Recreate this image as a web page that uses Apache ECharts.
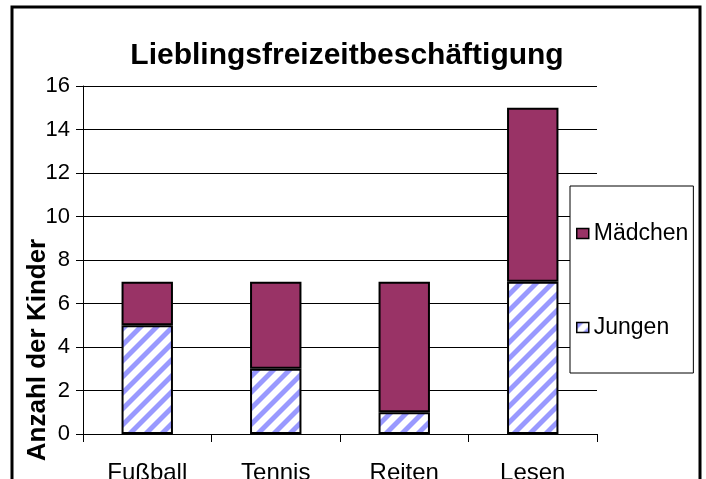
<!DOCTYPE html>
<html>
<head>
<meta charset="utf-8">
<script src="https://cdn.jsdelivr.net/npm/echarts@6/dist/echarts.min.js"></script>
<style>
html,body{margin:0;padding:0;background:#fff;}
#chart{width:706px;height:479px;}
</style>
</head>
<body>
<div id="chart"></div>
<script>
var titleText = 'Lieblingsfreizeitbeschäftigung';
var yAxisTitle = 'Anzahl der Kinder';
var categories = ['Fußball', 'Tennis', 'Reiten', 'Lesen'];
var seriesNames = ['Jungen', 'Mädchen'];
var jungen = [5, 3, 1, 7];
var maedchen = [2, 4, 6, 8];
var yMin = 0, yMax = 16, yStep = 2;

function makeHatch() {
  var n = 16;
  var c = document.createElement('canvas');
  c.width = n; c.height = n;
  var ctx = c.getContext('2d');
  var img = ctx.createImageData(n, n);
  for (var y = 0; y < n; y++) {
    for (var x = 0; x < n; x++) {
      var d = (x + y) % n;
      var t;
      if (d < 6) t = 1; else if (d === 6 || d === 15) t = 0.5; else t = 0;
      var r = Math.round(255 - t * (255 - 0x99));
      var g = Math.round(255 - t * (255 - 0x99));
      var i = (y * n + x) * 4;
      img.data[i] = r; img.data[i + 1] = g; img.data[i + 2] = 255; img.data[i + 3] = 255;
    }
  }
  ctx.putImageData(img, 0, 0);
  return c;
}
var hatch = makeHatch();
var FONT = 'Liberation Sans, Arial, sans-serif';

var chart = echarts.init(document.getElementById('chart'), null, {renderer: 'canvas'});
chart.setOption({
  backgroundColor: '#fff',
  animation: false,
  title: {
    text: titleText,
    left: 342,
    textAlign: 'center',
    top: 36,
    textStyle: {fontFamily: FONT, fontSize: 30, fontWeight: 'bold', color: '#000'}
  },
  legend: {
    data: ['Mädchen', 'Jungen'],
    orient: 'vertical',
    left: 570,
    top: 186,
    padding: [36, 5, 34, 6],
    itemGap: 71,
    itemWidth: 12,
    itemHeight: 10,
    itemTextGap: 5,
    icon: 'rect',
    borderColor: '#000',
    borderWidth: 1,
    borderRadius: 0,
    backgroundColor: '#fff',
    textStyle: {fontFamily: FONT, fontSize: 23, color: '#000'},
    itemStyle: {borderColor: '#000', borderWidth: 1.5}
  },
  grid: {left: 83, right: 109, top: 86, bottom: 45, containLabel: false, outerBoundsMode: 'none'},
  xAxis: {
    type: 'category',
    data: categories,
    axisLine: {lineStyle: {color: '#000', width: 1}},
    axisTick: {show: true, length: 8, lineStyle: {color: '#000'}},
    axisLabel: {fontFamily: FONT, fontSize: 24, color: '#000', margin: 27}
  },
  yAxis: {
    type: 'value',
    min: yMin, max: yMax, interval: yStep,
    axisLine: {show: true, lineStyle: {color: '#000', width: 1}},
    axisTick: {show: true, length: 7, lineStyle: {color: '#000'}},
    axisLabel: {fontFamily: FONT, fontSize: 22, color: '#000', margin: 13},
    splitLine: {show: true, lineStyle: {color: '#000', width: 1}}
  },
  graphic: [
    {
      type: 'text',
      x: 38, y: 350,
      rotation: Math.PI / 2,
      style: {
        text: yAxisTitle,
        fontFamily: FONT, fontSize: 26, fontWeight: 'bold', fill: '#000',
        align: 'center', verticalAlign: 'middle'
      },
      z: 100
    },
    {
      type: 'rect',
      shape: {x: 12, y: 7, width: 688, height: 520},
      style: {fill: 'none', stroke: '#000', lineWidth: 3},
      z: 100
    }
  ],
  series: [
    {
      name: seriesNames[0],
      type: 'bar',
      stack: 'total',
      data: jungen,
      barWidth: '40%',
      itemStyle: {color: {image: hatch, repeat: 'repeat'}, borderColor: '#000', borderWidth: 2}
    },
    {
      name: seriesNames[1],
      type: 'bar',
      stack: 'total',
      data: maedchen,
      barWidth: '40%',
      itemStyle: {color: '#993366', borderColor: '#000', borderWidth: 2}
    }
  ]
});
</script>
</body>
</html>
